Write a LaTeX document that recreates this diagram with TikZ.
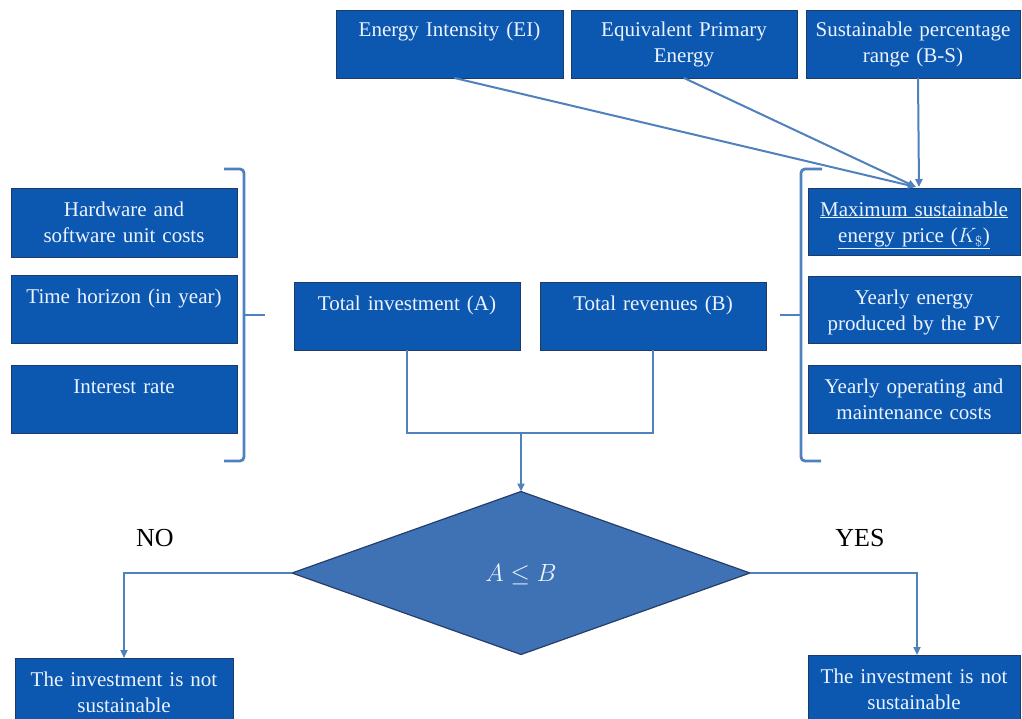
\documentclass[tikz,border=0pt]{standalone}
\usepackage{fontspec}
\setmainfont{Liberation Serif}
\usetikzlibrary{arrows.meta,calc,shapes.geometric}
\definecolor{boxfill}{RGB}{12,88,176}
\definecolor{boxdraw}{RGB}{30,58,105}
\definecolor{lineblue}{RGB}{79,129,189}
\definecolor{diafill}{RGB}{62,114,181}
\definecolor{diadraw}{RGB}{38,62,105}
\definecolor{txtcol}{RGB}{236,243,255}
\newcommand{\flowbox}[7]{%
  \node[boxshape, anchor=north west, minimum width={#4-#2}, minimum height={#5-#3}] (#1) at (#2,#3) {};
  \node[boxtext, text width={#4-#2-6}, anchor=base] (#1t) at ($(#1.north)+(0,#6)$) {#7};
}
\begin{document}
\begin{tikzpicture}[x=1pt,y=-1pt,
  boxshape/.style={draw=boxdraw, line width=0.9pt, fill=boxfill, inner sep=0pt, outer sep=0pt},
  boxtext/.style={text=txtcol, align=center, inner sep=0pt, font=\fontsize{21}{26.5}\selectfont},
  link/.style={draw=lineblue, line width=2.6pt},
  thinlink/.style={draw=lineblue, line width=2pt},
  tip/.style={-{Triangle[length=8pt,width=7pt]}},
  brace/.style={draw=lineblue, line width=2.8pt, rounded corners=4pt},
  answer/.style={font=\fontsize{26}{30}\selectfont, text=black, inner sep=0pt}]
\useasboundingbox (0,0) rectangle (1022,718);
\fill[white] (0,0) rectangle (1022,718);

% top row
\flowbox{EI}{336}{10}{563}{78}{26}{Energy Intensity (EI)}
\flowbox{EPE}{571}{10}{797}{78}{26}{Equivalent Primary\\Energy}
\flowbox{BS}{806}{10}{1020}{78}{26}{Sustainable percentage\\range (B-S)}

% left column
\flowbox{HW}{11}{188}{237}{257}{28}{Hardware and\\software unit costs}
\flowbox{TH}{11}{275}{237}{343}{28}{Time horizon (in year)}
\flowbox{IR}{11}{365}{237}{433}{28}{Interest rate}

% right column
\flowbox{MS}{808}{188}{1020}{255}{28}{\underline{Maximum sustainable}\\\underline{energy price ($K_{\$}$)}}
\flowbox{YE}{808}{276}{1020}{343}{28}{Yearly energy\\produced by the PV}
\flowbox{YO}{808}{365}{1020}{433}{28}{Yearly operating and\\maintenance costs}

% middle
\flowbox{TI}{294}{282}{520}{350}{28}{Total investment (A)}
\flowbox{TR}{540}{282}{766}{350}{28}{Total revenues (B)}

% bottom
\flowbox{NB}{15}{658}{233}{740}{28}{The investment is not\\sustainable}
\flowbox{YB}{808}{655}{1020}{740}{28}{The investment is not\\sustainable}

% diamond
\node[diamond, draw=diadraw, line width=1.2pt, fill=diafill, minimum width=458pt, minimum height=163pt, inner sep=0pt, outer sep=0pt] (D) at (521,573) {};
\node[text=txtcol, font=\fontsize{25}{29}\selectfont] (Dt) at (521,575) {$A \leq B$};

% labels
\node[answer] (NO) at (155,538) {NO};
\node[answer] (YES) at (860,538) {YES};

% top connectors
\draw[thinlink, tip] ($(EI.south)+(5,0)$) -- ($(MS.north)+(2,-1)$);
\draw[thinlink, tip] (EPE.south) -- ($(MS.north)+(2,-1)$);
\draw[thinlink, tip] ($(BS.south)+(5,0)$) -- ($(MS.north)+(5,-1)$);

% middle connectors
\coordinate (J) at (521,433);
\draw[link] (TI.south) |- (J) -| (TR.south);
\draw[link, tip] (J) -- (D.north);

% decision branches
\draw[link, tip] (D.west) -| (NB.north);
\draw[link, tip] (D.east) -| ($(YB.north)+(3,0)$);

% braces
\draw[brace] (224,169) -- (244,169) -- (244,461) -- (224,461);
\draw[brace] (244,315) -- (265,315);
\draw[brace] (822,169) -- (801,169) -- (801,461) -- (821,461);
\draw[brace] (801,315) -- (780,315);
\end{tikzpicture}
\end{document}
